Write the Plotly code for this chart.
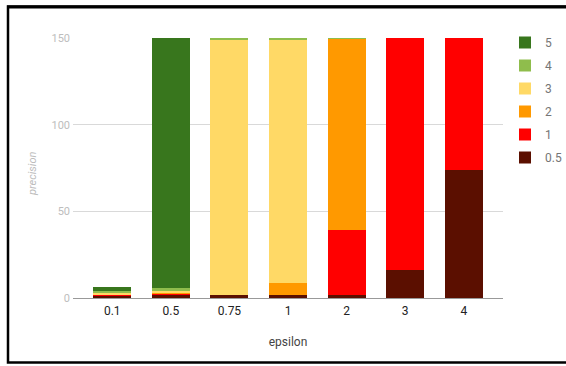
import plotly.graph_objects as go

categories = ["0.1", "0.5", "0.75", "1", "2", "3", "4"]
series_names = ["0.5", "1", "2", "3", "4", "5"]
s_05 = [1.7, 2.0, 2.0, 2.0, 2.0, 16.0, 74.0]
s_1 = [0.3, 0.5, 0.0, 0.0, 37.5, 134.0, 76.0]
s_2 = [0.3, 0.5, 0.0, 6.8, 110.0, 0.0, 0.0]
s_3 = [1.1, 1.0, 147.0, 140.2, 0.0, 0.0, 0.0]
s_4 = [0.6, 1.7, 1.0, 1.0, 0.5, 0.0, 0.0]
s_5 = [2.5, 144.3, 0.0, 0.0, 0.0, 0.0, 0.0]
series_values = [s_05, s_1, s_2, s_3, s_4, s_5]
colors = ["#5b0f00", "#ff0000", "#ff9900", "#ffd966", "#8fbd4c", "#38761d"]
y_ticks = [0, 50, 100, 150]

W, H = 566, 366
L, R, T, B = 73, 63, 38, 68
pw, ph = W - L - R, H - T - B

def px_x(p):
    return (p - L) / pw

def px_y(p):
    return (H - B - p) / ph

fig = go.Figure()
n = len(series_names)
for i, (name, vals, col) in enumerate(zip(series_names, series_values, colors)):
    fig.add_trace(go.Bar(
        x=categories, y=vals, name=name, legendgroup=name, legendrank=n - i,
        marker=dict(color=col, line=dict(width=0)),
    ))

fig.update_layout(
    width=W, height=H,
    margin=dict(l=L, r=R, t=T, b=B, pad=0, autoexpand=False),
    barmode="stack", bargap=0.35,
    plot_bgcolor="white", paper_bgcolor="white",
    font=dict(family="Roboto", size=12, color="#444"),
    showlegend=True,
    legend=dict(
        x=px_x(505), xanchor="left", y=px_y(28), yanchor="top",
        traceorder="grouped", tracegroupgap=4,
        font=dict(size=12, color="#757575"),
        bgcolor="rgba(0,0,0,0)",
    ),
    xaxis=dict(
        type="category", range=[-0.67, 6.67],
        showgrid=False, zeroline=False, showline=False, ticks="",
        tickfont=dict(size=12, color="#222"), ticklabelstandoff=4,
        title=dict(text="epsilon", font=dict(size=12, color="#444"), standoff=20),
    ),
    yaxis=dict(
        range=[0, 150], tickvals=y_ticks, ticktext=[str(v) for v in y_ticks],
        showgrid=True, gridcolor="#d9d9d9", gridwidth=1,
        zeroline=True, zerolinecolor="#999", zerolinewidth=1,
        showline=False, ticks="", ticklabelstandoff=2,
        tickfont=dict(size=11, color="#bdbdbd"),
    ),
    shapes=[
        dict(type="line", xref="paper", yref="paper", x0=px_x(7), x1=px_x(620), y0=px_y(7), y1=px_y(7),
             line=dict(color="black", width=3), layer="above"),
        dict(type="rect", xref="paper", yref="paper", x0=px_x(8), x1=px_x(620), y0=px_y(6.5), y1=px_y(362.5),
             line=dict(color="black", width=2.5), fillcolor="rgba(0,0,0,0)", layer="above"),
    ],
    annotations=[
        dict(text="precision", xref="paper", yref="paper", x=px_x(33), y=px_y(174),
             xanchor="center", yanchor="middle",
             showarrow=False, textangle=-90, font=dict(size=11, color="#bdbdbd", style="italic")),
    ],
)

fig.write_html("out.html", config={"displayModeBar": False},
               post_script="document.body.style.margin='0';")
